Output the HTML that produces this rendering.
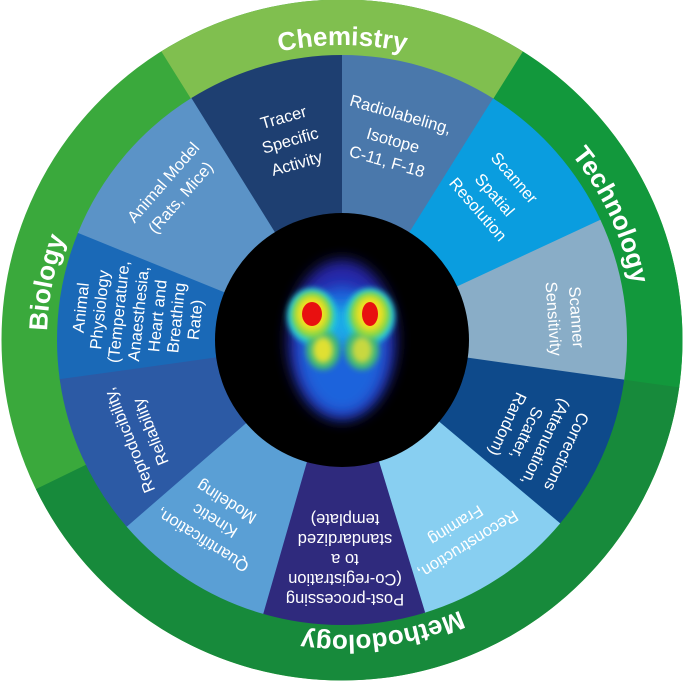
<!DOCTYPE html>
<html><head><meta charset="utf-8"><style>
html,body{margin:0;padding:0;background:#fff;}
svg{display:block;}
text{font-family:"Liberation Sans",sans-serif;fill:#fff;}
.w{font-size:16.5px;text-anchor:middle;}
.r{font-size:26px;font-weight:bold;}
</style></head><body>
<svg width="685" height="685" viewBox="0 0 685 685" xmlns="http://www.w3.org/2000/svg">
<defs>
<path id="tp" d="M342,635 A295,295 0 1,1 342,45 A295,295 0 1,1 342,635 A295,295 0 1,1 342,45"/>
<filter id="bl" x="-50%" y="-50%" width="200%" height="200%"><feGaussianBlur stdDeviation="7"/></filter>
<filter id="bl2" x="-50%" y="-50%" width="200%" height="200%"><feGaussianBlur stdDeviation="3"/></filter>
</defs>
<g transform="rotate(-90 342 340)" fill="none" stroke-width="56">
<circle cx="342" cy="340" r="312.5" stroke="#3aa93c"/>
<circle cx="342" cy="340" r="312.5" stroke="#12983c" stroke-dasharray="360.5 3000" stroke-dashoffset="-174.5"/>
<circle cx="342" cy="340" r="312.5" stroke="#178a3b" stroke-dasharray="796.3 3000" stroke-dashoffset="-534.5"/>
<circle cx="342" cy="340" r="312.5" stroke="#80bf4f" stroke-dasharray="175 3000" stroke-dashoffset="0"/>
<circle cx="342" cy="340" r="312.5" stroke="#80bf4f" stroke-dasharray="175 3000" stroke-dashoffset="-1788.5"/>
</g>
<g transform="rotate(-90 342 340)" fill="none" stroke-width="160">
<circle cx="342" cy="340" r="205" stroke="#4a78ab" stroke-dasharray="116 3000" stroke-dashoffset="0"/>
<circle cx="342" cy="340" r="205" stroke="#0a9ddf" stroke-dasharray="119.5 3000" stroke-dashoffset="-114.5"/>
<circle cx="342" cy="340" r="205" stroke="#89adc7" stroke-dasharray="119.5 3000" stroke-dashoffset="-232.6"/>
<circle cx="342" cy="340" r="205" stroke="#0e4a8b" stroke-dasharray="116 3000" stroke-dashoffset="-350.6"/>
<circle cx="342" cy="340" r="205" stroke="#88cff1" stroke-dasharray="119.5 3000" stroke-dashoffset="-465.1"/>
<circle cx="342" cy="340" r="205" stroke="#2f2a7d" stroke-dasharray="119.5 3000" stroke-dashoffset="-583.1"/>
<circle cx="342" cy="340" r="205" stroke="#5a9fd5" stroke-dasharray="119.5 3000" stroke-dashoffset="-701.2"/>
<circle cx="342" cy="340" r="205" stroke="#2c5aa5" stroke-dasharray="119.5 3000" stroke-dashoffset="-819.3"/>
<circle cx="342" cy="340" r="205" stroke="#1a69b7" stroke-dasharray="108.5 3000" stroke-dashoffset="-937.4"/>
<circle cx="342" cy="340" r="205" stroke="#5b93c7" stroke-dasharray="130 3000" stroke-dashoffset="-1044.7"/>
<circle cx="342" cy="340" r="205" stroke="#1e3f71" stroke-dasharray="115 3000" stroke-dashoffset="-1173.5"/>
</g>
<circle cx="342" cy="340" r="127" fill="#000"/>
<g>
<ellipse cx="342" cy="340" rx="54" ry="80" fill="#2828a8" filter="url(#bl)"/>
<ellipse cx="342" cy="350" rx="44" ry="64" fill="#1f64dc" filter="url(#bl)"/>
<ellipse cx="342" cy="325" rx="30" ry="20" fill="#1ea8e8" filter="url(#bl)"/>
<ellipse cx="312" cy="316" rx="25" ry="28" fill="#20c8d8" filter="url(#bl2)"/>
<ellipse cx="370" cy="316" rx="25" ry="28" fill="#20c8d8" filter="url(#bl2)"/>
<ellipse cx="323" cy="350" rx="17" ry="20" fill="#40b878" filter="url(#bl2)"/>
<ellipse cx="362" cy="350" rx="17" ry="20" fill="#40b878" filter="url(#bl2)"/>
<ellipse cx="312" cy="315" rx="20" ry="23" fill="#90d840" filter="url(#bl2)"/>
<ellipse cx="370" cy="315" rx="20" ry="23" fill="#90d840" filter="url(#bl2)"/>
<ellipse cx="323" cy="350" rx="10" ry="13" fill="#e0e030" filter="url(#bl2)"/>
<ellipse cx="362" cy="350" rx="10" ry="13" fill="#c8d840" filter="url(#bl2)"/>
<ellipse cx="312" cy="314" rx="15" ry="17" fill="#f0e020" filter="url(#bl2)"/>
<ellipse cx="370" cy="314" rx="14" ry="17" fill="#f0e020" filter="url(#bl2)"/>
<ellipse cx="312" cy="314" rx="10" ry="12" fill="#e81010"/>
<ellipse cx="370" cy="314" rx="8" ry="12" fill="#e81010"/>
</g>
<text class="r" text-anchor="middle"><textPath href="#tp" startOffset="926.8">Chemistry</textPath></text>
<text class="r" text-anchor="middle"><textPath href="#tp" startOffset="1261.4">Technology</textPath></text>
<text class="r" text-anchor="middle"><textPath href="#tp" startOffset="1812.3">Methodology</textPath></text>
<text class="r" text-anchor="middle"><textPath href="#tp" startOffset="520">Biology</textPath></text>
<text class="w" transform="translate(290,140) rotate(-16)"><tspan x="0" y="-18">Tracer</tspan><tspan x="0" y="6">Specific</tspan><tspan x="0" y="30">Activity</tspan></text>
<text class="w" transform="translate(394,137) rotate(16)"><tspan x="0" y="-18">Radiolabeling,</tspan><tspan x="0" y="9">Isotope</tspan><tspan x="0" y="31">C-11, F-18</tspan></text>
<text class="w" transform="translate(498,192) rotate(49)"><tspan x="0" y="-16">Scanner</tspan><tspan x="0" y="10">Spatial</tspan><tspan x="0" y="32">Resolution</tspan></text>
<text class="w" transform="translate(565,318) rotate(86)"><tspan x="0" y="-6">Scanner</tspan><tspan x="0" y="17">Sensitivity</tspan></text>
<text class="w" transform="translate(537,438) rotate(115)"><tspan x="0" y="-27">Corrections</tspan><tspan x="0" y="-4">(Attenuation,</tspan><tspan x="0" y="17">Scatter,</tspan><tspan x="0" y="38">Random)</tspan></text>
<text class="w" transform="translate(462,535) rotate(148)"><tspan x="0" y="-6">Reconstruction,</tspan><tspan x="0" y="17">Framing</tspan></text>
<text class="w" transform="translate(345,560) rotate(180)"><tspan x="0" y="-34">Post-processing</tspan><tspan x="0" y="-14">(Co-registration</tspan><tspan x="0" y="6">to a</tspan><tspan x="0" y="26">standardized</tspan><tspan x="0" y="46">template)</tspan></text>
<text class="w" transform="translate(214,522) rotate(212)"><tspan x="0" y="-16">Quantification,</tspan><tspan x="0" y="7">Kinetic</tspan><tspan x="0" y="29">Modeling</tspan></text>
<text class="w" transform="translate(140,436) rotate(-112)"><tspan x="0" y="-6">Reproducibility,</tspan><tspan x="0" y="17">Reliability</tspan></text>
<text class="w" transform="translate(140,314) rotate(-84)"><tspan x="0" y="-54">Animal</tspan><tspan x="0" y="-35">Physiology</tspan><tspan x="0" y="-16">(Temperature,</tspan><tspan x="0" y="4">Anaesthesia,</tspan><tspan x="0" y="23">Heart and</tspan><tspan x="0" y="42">Breathing</tspan><tspan x="0" y="61">Rate)</tspan></text>
<text class="w" transform="translate(172,190) rotate(-49)"><tspan x="0" y="-6">Animal Model</tspan><tspan x="0" y="17">(Rats, Mice)</tspan></text>
</svg>
</body></html>
